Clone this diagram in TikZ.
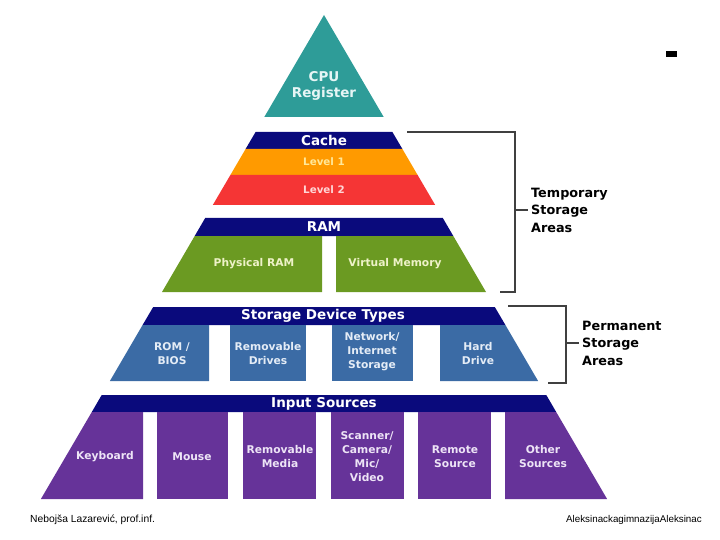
\documentclass[tikz,border=0pt]{standalone}
\usepackage{fontspec}
\setmainfont{DejaVu Sans}
\newfontfamily\footfont{Liberation Sans}
\usepackage{tikz}
\usetikzlibrary{positioning}

\definecolor{navyband}{HTML}{0A0A7C}
\definecolor{cputeal}{HTML}{2E9C98}
\definecolor{cputext}{HTML}{E6F5F5}
\definecolor{lvlorange}{HTML}{FF9A00}
\definecolor{lvlred}{HTML}{F53535}
\definecolor{orangetext}{HTML}{FFE89A}
\definecolor{redtext}{HTML}{FFD6D6}
\definecolor{ramgreen}{HTML}{6B9A22}
\definecolor{greentext}{HTML}{EEF2C8}
\definecolor{storeblue}{HTML}{3B6BA5}
\definecolor{bluetext}{HTML}{E4ECF6}
\definecolor{inpurple}{HTML}{663399}
\definecolor{purpletext}{HTML}{EDE4F6}
\definecolor{brackgray}{HTML}{404040}

\begin{document}
\begin{tikzpicture}[
        x=1pt, y=-1pt,
        band/.style={font=\fontsize{13.5}{15.5}\selectfont\bfseries, text=white, align=center, inner sep=0pt},
        lbl/.style={font=\fontsize{10.7}{14}\selectfont\bfseries, align=center, inner sep=0pt},
        side/.style={font=\fontsize{12.8}{17.5}\selectfont\bfseries, align=left, anchor=west, inner sep=3pt},
        brk/.style={draw=brackgray, line width=1.1pt},
        foot/.style={font=\footfont\fontsize{10.3}{12}\selectfont, inner sep=0pt}
    ]
    \useasboundingbox (0,0) rectangle (720,540);

    % CPU
    \fill[cputeal] (324,15) -- (383.7,117) -- (264.3,117) -- cycle;
    \node (cpu) [band, text=cputext] at (324,86) {CPU\\Register};

    % Cache
    \fill[navyband] (255.6,132) -- (392.4,132) -- (402.4,149) -- (245.6,149) -- cycle;
    \fill[lvlorange] (245.6,149) -- (402.4,149) -- (417.6,175) -- (230.4,175) -- cycle;
    \fill[lvlred] (230.4,175) -- (417.6,175) -- (435.2,205) -- (212.8,205) -- cycle;
    \node (cache) [band] at (324,140.5) {Cache};
    \node (level1) [lbl, text=orangetext, font=\fontsize{10.3}{12}\selectfont\bfseries] at (324,162) {Level 1};
    \node (level2) [lbl, text=redtext, font=\fontsize{10.3}{12}\selectfont\bfseries] at (324,190) {Level 2};

    % RAM
    \fill[navyband] (205.2,218) -- (442.8,218) -- (453.3,236) -- (194.7,236) -- cycle;
    \fill[ramgreen] (194.7,236) -- (322,236) -- (322,292) -- (162,292) -- cycle;
    \fill[ramgreen] (336,236) -- (453.3,236) -- (486,292) -- (336,292) -- cycle;
    \node (ram) [band] at (324,227) {RAM};
    \node (physram) [lbl, text=greentext] at (254,264) {Physical RAM};
    \node (virtmem) [lbl, text=greentext] at (395,264) {Virtual Memory};

    % Storage
    \fill[navyband] (153.2,307) -- (494.8,307) -- (505.4,325) -- (142.6,325) -- cycle;
    \fill[storeblue] (142.6,325) -- (209,325) -- (209,381) -- (109.9,381) -- cycle;
    \fill[storeblue] (230,325) rectangle (306,381);
    \fill[storeblue] (332,325) rectangle (413,381);
    \fill[storeblue] (440,325) -- (505.4,325) -- (538.1,381) -- (440,381) -- cycle;
    \node (storage) [band] at (323,316) {Storage Device Types};
    \node (rom) [lbl, text=bluetext] at (172,354) {ROM /\\BIOS};
    \node (remdrives) [lbl, text=bluetext] at (268,354) {Removable\\Drives};
    \node (network) [lbl, text=bluetext] at (372,352) {Network/\\Internet\\Storage};
    \node (harddrive) [lbl, text=bluetext] at (478,354) {Hard\\Drive};

    % Input
    \fill[navyband] (101.7,395) -- (546.3,395) -- (556.2,412) -- (91.8,412) -- cycle;
    \fill[inpurple] (91.8,412) -- (143,412) -- (143,499) -- (40.9,499) -- cycle;
    \fill[inpurple] (157,412) rectangle (228,499);
    \fill[inpurple] (243,412) rectangle (316,499);
    \fill[inpurple] (331,412) rectangle (404,499);
    \fill[inpurple] (418,412) rectangle (491,499);
    \fill[inpurple] (505,412) -- (556.2,412) -- (607.1,499) -- (505,499) -- cycle;
    \node (input) [band] at (324,403.5) {Input Sources};
    \node (keyboard) [lbl, text=purpletext] at (105,457) {Keyboard};
    \node (mouse) [lbl, text=purpletext] at (192,457) {Mouse};
    \node (remmedia) [lbl, text=purpletext] at (280,457) {Removable\\Media};
    \node (scanner) [lbl, text=purpletext] at (367,457) {Scanner/\\Camera/\\Mic/\\Video};
    \node (remote) [lbl, text=purpletext] at (455,457) {Remote\\Source};
    \node (other) [lbl, text=purpletext] at (543,457) {Other\\Sources};

    % Brackets
    \node (temp) [side] at (528,210) {Temporary\\Storage\\Areas};
    \node (perm) [side] at (579,343) {Permanent\\Storage\\Areas};
    \coordinate (ttop) at (407,132);
    \coordinate (tbot) at (500,292);
    \coordinate (ptop) at (508,306);
    \coordinate (pbot) at (548,383);
    \draw[brk] (ttop) -- (515,132) -- (515,292) -- (tbot);
    \draw[brk] (515,210) -- (temp.west);
    \draw[brk] (ptop) -- (566,306) -- (566,383) -- (pbot);
    \draw[brk] (566,343) -- (perm.west);

    \fill (666,51) rectangle (677,57);

    % Footer
    \node (author) [foot, anchor=west] at (30,520) {Nebojša Lazarević, prof.inf.};
    \node (school) [foot, anchor=east, font=\footfont\fontsize{9.8}{12}\selectfont] at (702,520) {AleksinackagimnazijaAleksinac};

\end{tikzpicture}
\end{document}
